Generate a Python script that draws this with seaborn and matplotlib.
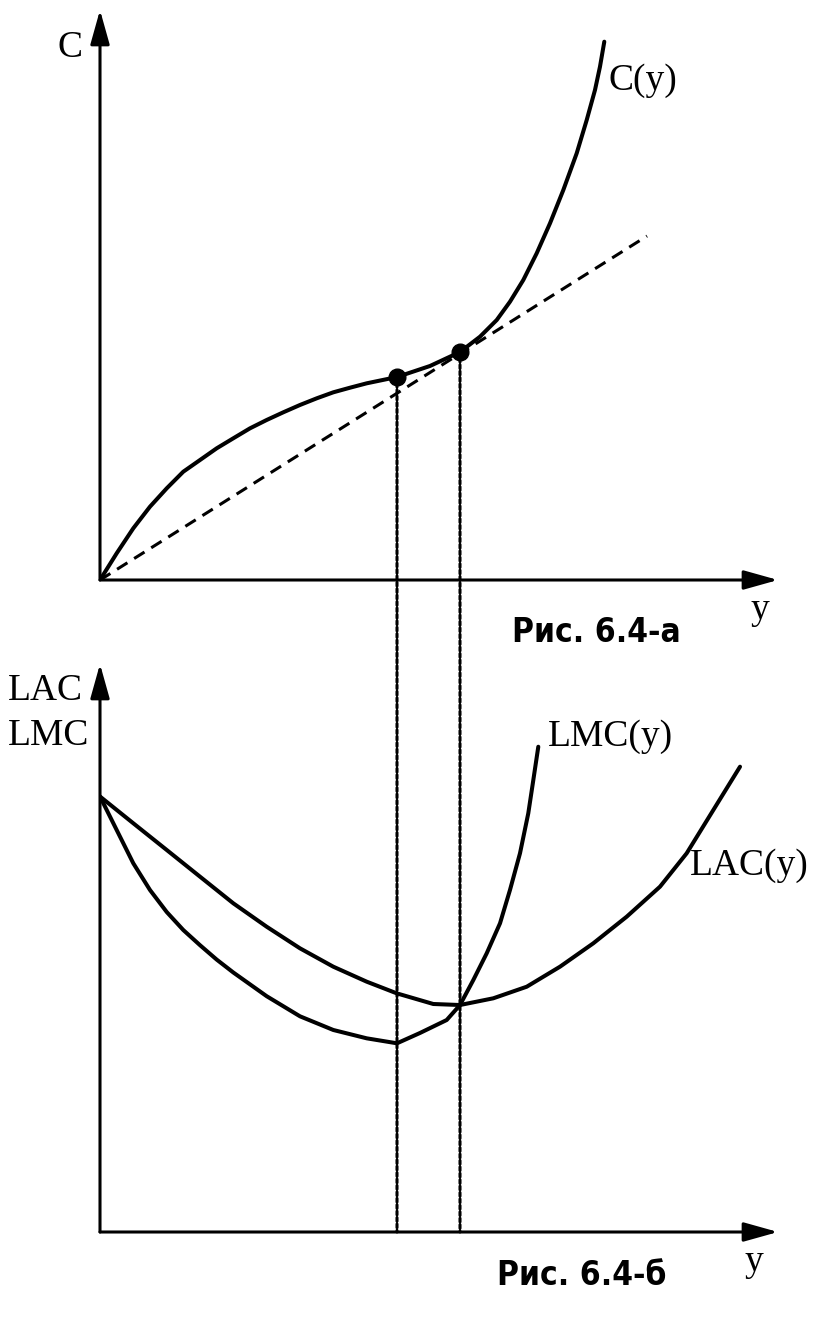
import matplotlib
matplotlib.use("Agg")
import matplotlib.pyplot as plt
import seaborn as sns
import pandas as pd
from matplotlib.patches import ConnectionPatch

sns.set_theme(style="white")
plt.rcParams['font.family'] = ['Liberation Serif', 'DejaVu Serif']
plt.rcParams['text.color'] = 'black'

# ---- data (output y, cost) ----
# Top panel: total cost C(y)
c_y = [0.0, 0.278, 0.555, 0.833, 1.112, 1.388, 1.667, 1.945, 2.222, 2.5, 2.778,
       3.055, 3.333, 3.612, 3.888, 4.167, 4.445, 4.95, 5.5, 6.0, 6.333, 6.612,
       6.833, 7.055, 7.278, 7.5, 7.722, 7.945, 8.112, 8.25, 8.333, 8.405]
c_val = [0.0, 0.445, 0.862, 1.222, 1.528, 1.805, 2.0, 2.195, 2.362, 2.528, 2.667,
         2.795, 2.917, 3.028, 3.128, 3.205, 3.278, 3.383, 3.567, 3.8, 4.055, 4.333,
         4.638, 5.0, 5.445, 5.945, 6.5, 7.112, 7.667, 8.167, 8.555, 8.972]
# ray from origin (dashed)
ray_y = [0.0, 9.117]
ray_c = [0.0, 5.733]
# marked points
pts_y = [4.95, 6.0]
pts_c = [3.383, 3.8]

# Bottom panel: LMC and LAC
lmc_y = [0.0, 0.278, 0.555, 0.833, 1.112, 1.388, 1.667, 1.945, 2.222, 2.778, 3.333,
         3.888, 4.445, 4.95, 5.333, 5.778, 6.0, 6.222, 6.445, 6.667, 6.833,
         7.0, 7.138, 7.222, 7.305]
lmc_v = [7.258, 6.7, 6.145, 5.7, 5.333, 5.033, 4.78, 4.54, 4.325, 3.93, 3.595,
         3.367, 3.228, 3.145, 3.317, 3.533, 3.783, 4.2, 4.645, 5.145, 5.7,
         6.312, 6.978, 7.533, 8.088]
lac_y = [0.0, 0.555, 1.112, 1.667, 2.222, 2.778, 3.333, 3.888, 4.445, 4.945,
         5.555, 6.0, 6.555, 7.112, 7.667, 8.222, 8.778, 9.333, 9.778, 10.222, 10.667]
lac_v = [7.258, 6.812, 6.367, 5.922, 5.478, 5.088, 4.728, 4.422, 4.172, 3.978,
         3.8, 3.783, 3.895, 4.088, 4.422, 4.812, 5.255, 5.755, 6.312, 7.033, 7.755]

W, H = 837, 1321
fig = plt.figure(figsize=(W / 100, H / 100), dpi=100)
fig.patch.set_facecolor("white")

ax1 = fig.add_axes([100 / W, (H - 580) / H, 678 / W, 570 / H])
ax2 = fig.add_axes([100 / W, (H - 1232) / H, 678 / W, 568 / H])

LW = 2.9
df_c = pd.DataFrame({"y": c_y, "C": c_val})
sns.lineplot(data=df_c, x="y", y="C", sort=False, estimator=None, ax=ax1,
             color="black", lw=LW)
df_r = pd.DataFrame({"y": ray_y, "C": ray_c})
sns.lineplot(data=df_r, x="y", y="C", sort=False, estimator=None, ax=ax1,
             color="black", lw=2.2, linestyle=(0, (4, 2.6)))
ax1.plot(pts_y, pts_c, "o", color="black", ms=12, zorder=5)

df_m = pd.DataFrame({"y": lmc_y, "v": lmc_v})
sns.lineplot(data=df_m, x="y", y="v", sort=False, estimator=None, ax=ax2,
             color="black", lw=LW)
df_a = pd.DataFrame({"y": lac_y, "v": lac_v})
sns.lineplot(data=df_a, x="y", y="v", sort=False, estimator=None, ax=ax2,
             color="black", lw=LW)

ax1.set_xlim(0, 678 / 60)
ax1.set_ylim(0, 570 / 60)
ax2.set_xlim(0, 678 / 60)
ax2.set_ylim(0, 568 / 60)
for ax in (ax1, ax2):
    ax.set_xlabel("")
    ax.set_ylabel("")
    ax.axis("off")
    arrow = dict(arrowstyle="-|>,head_length=1.5,head_width=0.42", lw=2.2,
                 color="black", shrinkA=0, shrinkB=0, mutation_scale=14)
    ax.annotate("", xy=(0, 1), xytext=(0, 0), xycoords="axes fraction",
                textcoords="axes fraction", arrowprops=arrow)
    ax.annotate("", xy=(1, 0), xytext=(0, 0), xycoords="axes fraction",
                textcoords="axes fraction", arrowprops=arrow)

# dotted verticals spanning both panels
for xv, cv in zip(pts_y, pts_c):
    con = ConnectionPatch(xyA=(xv, cv), coordsA=ax1.transData,
                          xyB=(xv, 0), coordsB=ax2.transData,
                          color="black", lw=2.2, linestyle=(0, (1.2, 0.9)))
    fig.add_artist(con)

FS = 27
ax1.text(-0.5, 8.87, "C", fontsize=FS, ha="center", va="center")
ax1.text(8.47, 8.32, "C(y)", fontsize=FS, ha="left", va="center")
ax1.text(11.0, -0.5, "y", fontsize=FS, ha="center", va="center")
ax1.text(8.28, -0.87, "Рис. 6.4-а", fontsize=24, ha="center", va="center",
         family=["DejaVu Sans"], fontweight="bold", fontstretch="condensed")

ax2.text(-1.53, 9.02, "LAC", fontsize=FS, ha="left", va="center")
ax2.text(-1.53, 8.27, "LMC", fontsize=FS, ha="left", va="center")
ax2.text(7.47, 8.25, "LMC(y)", fontsize=FS, ha="left", va="center")
ax2.text(9.83, 6.1, "LAC(y)", fontsize=FS, ha="left", va="center")
ax2.text(10.9, -0.5, "y", fontsize=FS, ha="center", va="center")
ax2.text(8.02, -0.73, "Рис. 6.4-б", fontsize=24, ha="center", va="center",
         family=["DejaVu Sans"], fontweight="bold", fontstretch="condensed")

fig.savefig("out.png", dpi=100, facecolor="white")
